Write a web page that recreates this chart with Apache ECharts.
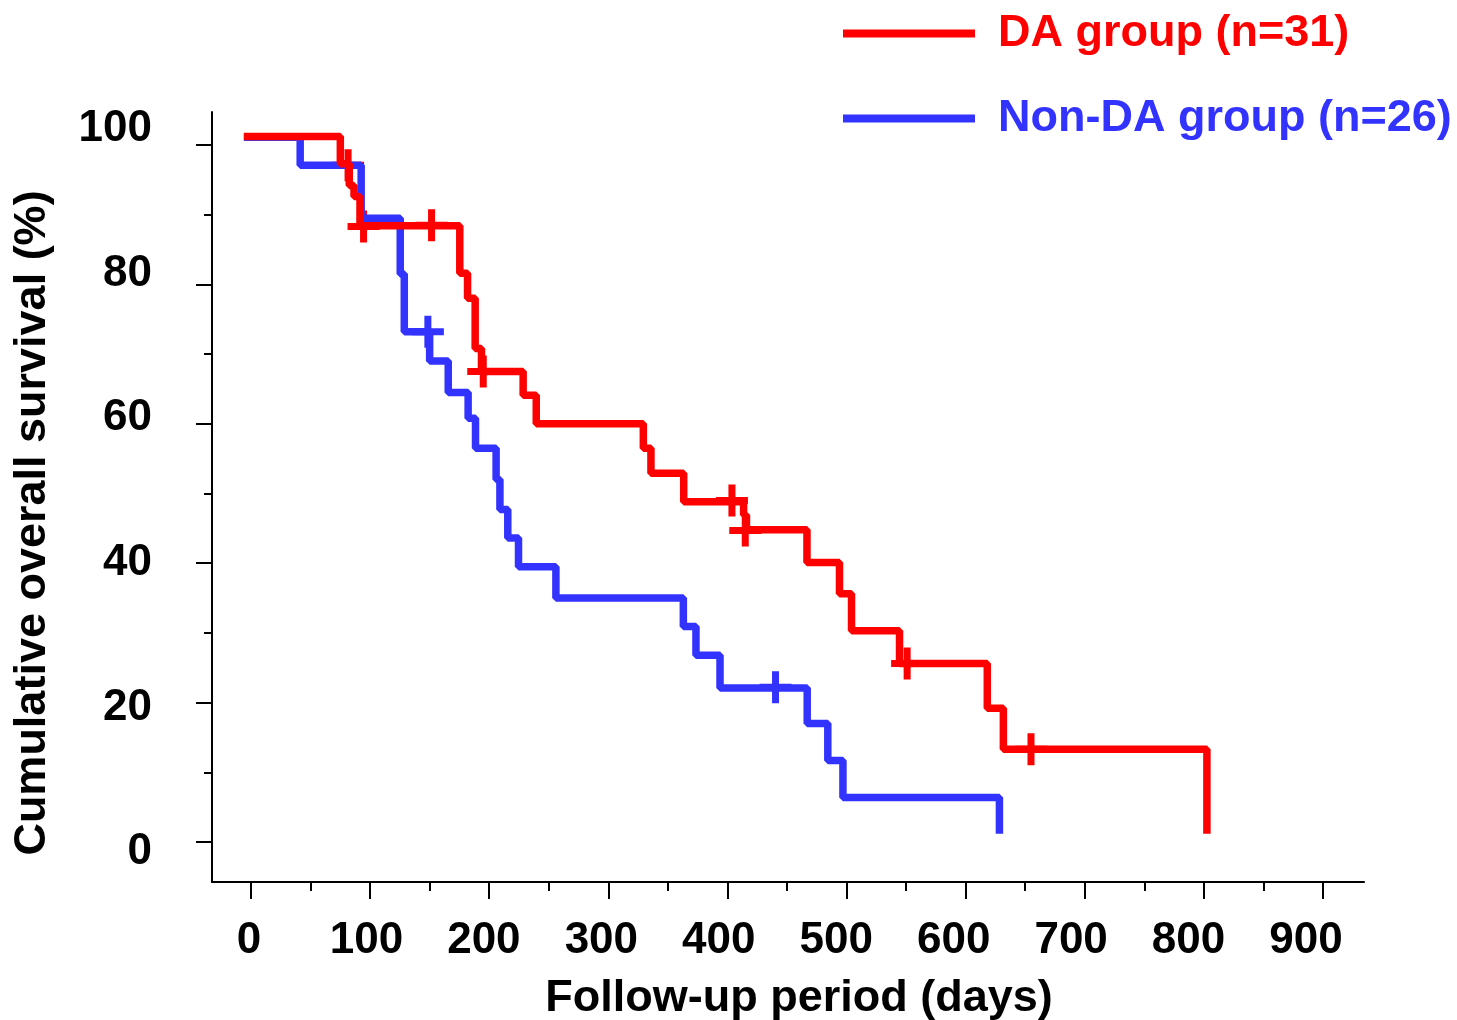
<!DOCTYPE html>
<html>
<head>
<meta charset="utf-8">
<title>Overall survival</title>
<script src="https://cdn.jsdelivr.net/npm/echarts@6/dist/echarts.min.js"></script>
<style>
html, body { margin: 0; padding: 0; background: #fff; }
#main { width: 1457px; height: 1020px; }
</style>
</head>
<body>
<div id="main"></div>
<script>
// step curves: day of each drop and the level right after it
var daDays = [-6, 75, 82.5, 86.5, 91.5, 175.3, 181.8, 188.2, 193.5, 228.5, 239.5, 329.4, 335.8, 363.3, 413.6, 416, 466.8, 494.1, 504.2, 544.5, 618.2, 631.7, 802.6];
var daSurv = [101.2, 97.3, 94.2, 92.6, 88.4, 81.6, 78.0, 70.8, 67.5, 64.1, 60.0, 56.5, 52.9, 48.8, 46.9, 44.8, 40.1, 35.6, 30.3, 25.6, 19.2, 13.3, 1.2];
var daCensDays = [81.5, 94.5, 151.6, 195, 403.8, 415, 550.9, 654.9];
var daCensSurv = [97.1, 88.3, 88.5, 67.5, 49.0, 44.7, 25.6, 13.3];

var nonDays = [-6, 41.3, 92.5, 125.3, 128.7, 150, 165.6, 182.3, 188.5, 205.8, 209, 215.6, 224.6, 256, 363, 373.6, 393.8, 467, 484.3, 497, 628.4];
var nonSurv = [101.1, 97.1, 89.5, 81.5, 73.2, 69.0, 64.5, 60.8, 56.5, 52.0, 47.7, 43.6, 39.5, 35.0, 30.9, 26.8, 22.1, 17.0, 11.7, 6.4, 1.2];
var nonCensDays = [148.5, 440.4];
var nonCensSurv = [73.2, 22.2];

var daName = 'DA group (n=31)';
var nonName = 'Non-DA group (n=26)';
var RED = '#ff0000';
var BLUE = '#3333ff';
var FONT = '"Liberation Sans", Arial, Helvetica, sans-serif';
var PLUS = 'path://M-3.5,-16H3.5V-3.5H16V3.5H3.5V16H-3.5V3.5H-16V-3.5H-3.5Z';

function pairs(xs, ys) {
  var out = [];
  for (var i = 0; i < xs.length; i++) out.push([xs[i], ys[i]]);
  return out;
}

var chart = echarts.init(document.getElementById('main'));

var option = {
  animation: false,
  backgroundColor: '#fff',
  legend: {
    orient: 'vertical',
    left: 843,
    top: 6,
    padding: 0,
    itemGap: 30,
    itemWidth: 132,
    itemHeight: 8,
    icon: 'rect',
    textStyle: { fontSize: 45, fontWeight: 'bold', fontFamily: FONT, lineHeight: 50, padding: [5, 0, 0, 18] },
    data: [
      { name: daName, textStyle: { color: RED } },
      { name: nonName, textStyle: { color: BLUE } }
    ]
  },
  grid: [
    // frame (axis lines) and data
    { left: 212, right: 93, top: 112, bottom: 138, outerBoundsMode: 'none' },
    // ticks
    { left: 251, right: 134, top: 145, bottom: 178, outerBoundsMode: 'none' },
    // tick labels
    { left: 249, right: 151, top: 129, bottom: 168, outerBoundsMode: 'none' }
  ],
  xAxis: [
    {
      gridIndex: 0, type: 'value', min: -32.75, max: 934.5,
      axisLine: { show: true, onZero: false, lineStyle: { color: '#000', width: 2 } },
      axisTick: { show: false }, axisLabel: { show: false }, splitLine: { show: false },
      name: 'Follow-up period (days)', nameLocation: 'middle', nameGap: 94,
      nameTextStyle: { fontSize: 45, fontWeight: 'bold', fontFamily: FONT, color: '#000', padding: [0, 0, 0, 22] }
    },
    {
      gridIndex: 1, type: 'value', min: 0, max: 900, interval: 100, offset: 40,
      axisLine: { show: false, onZero: false },
      axisTick: { show: true, length: 17, lineStyle: { color: '#000', width: 2 } },
      minorTick: { show: true, splitNumber: 2, length: 9, lineStyle: { color: '#000', width: 2 } },
      axisLabel: { show: false }, splitLine: { show: false }
    },
    {
      gridIndex: 2, type: 'value', min: 0, max: 900, interval: 100,
      axisLine: { show: false, onZero: false }, axisTick: { show: false }, splitLine: { show: false },
      axisLabel: { margin: 67, fontSize: 44, fontWeight: 'bold', fontFamily: FONT, color: '#000' }
    }
  ],
  yAxis: [
    {
      gridIndex: 0, type: 'value', min: -5.74, max: 104.73,
      axisLine: { show: true, onZero: false, lineStyle: { color: '#000', width: 2 } },
      axisTick: { show: false }, axisLabel: { show: false }, splitLine: { show: false },
      name: 'Cumulative overall survival (%)', nameLocation: 'middle', nameRotate: 90, nameGap: 157,
      nameTextStyle: { fontSize: 45, fontWeight: 'bold', fontFamily: FONT, color: '#000', padding: [0, 52, 0, 0] }
    },
    {
      gridIndex: 1, type: 'value', min: 0, max: 100, interval: 20, offset: 39,
      axisLine: { show: false, onZero: false },
      axisTick: { show: true, length: 16, lineStyle: { color: '#000', width: 2 } },
      minorTick: { show: true, splitNumber: 2, length: 8, lineStyle: { color: '#000', width: 2 } },
      axisLabel: { show: false }, splitLine: { show: false }
    },
    {
      gridIndex: 2, type: 'value', min: 0, max: 100, interval: 20,
      axisLine: { show: false, onZero: false }, axisTick: { show: false }, splitLine: { show: false },
      axisLabel: { margin: 97, fontSize: 44, fontWeight: 'bold', fontFamily: FONT, color: '#000' }
    }
  ],
  series: [
    {
      name: nonName, type: 'line', step: 'end', xAxisIndex: 0, yAxisIndex: 0,
      showSymbol: false, color: BLUE,
      lineStyle: { color: BLUE, width: 7.5 },
      data: pairs(nonDays, nonSurv)
    },
    {
      name: daName, type: 'line', step: 'end', xAxisIndex: 0, yAxisIndex: 0,
      showSymbol: false, color: RED,
      lineStyle: { color: RED, width: 7.5 },
      data: pairs(daDays, daSurv)
    },
    {
      name: nonName, type: 'scatter', xAxisIndex: 0, yAxisIndex: 0,
      symbol: PLUS, symbolSize: 32, itemStyle: { color: BLUE, opacity: 1 },
      data: pairs(nonCensDays, nonCensSurv)
    },
    {
      name: daName, type: 'scatter', xAxisIndex: 0, yAxisIndex: 0,
      symbol: PLUS, symbolSize: 32, itemStyle: { color: RED, opacity: 1 },
      data: pairs(daCensDays, daCensSurv)
    }
  ]
};

chart.setOption(option);
</script>
</body>
</html>
